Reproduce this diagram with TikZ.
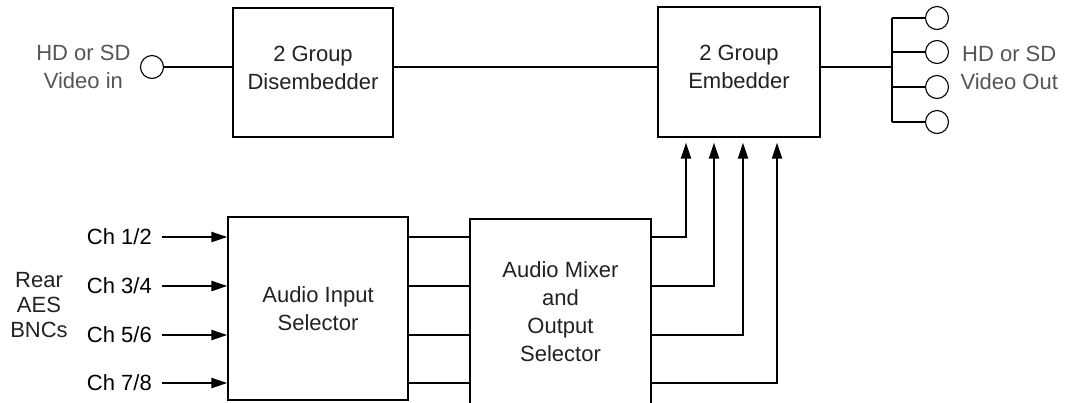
\documentclass[tikz,border=0pt]{standalone}
\usepackage{fontspec}
\setmainfont{Liberation Sans}
\usetikzlibrary{positioning, arrows.meta, calc}
\definecolor{labelgray}{HTML}{555555}
\definecolor{textdark}{HTML}{222222}
\tikzset{
  block/.style={rectangle, draw=black, line width=1.2pt, fill=white, align=center, text=textdark},
  bnc/.style={circle, draw=black, line width=1.1pt, fill=white, minimum size=23pt, inner sep=0pt},
  wire/.style={line width=1.2pt},
  arrow/.style={line width=2pt, -{Triangle[length=16pt, width=10pt]}}
}

\begin{document}
\begin{tikzpicture}[x=1pt, y=-1pt, node distance=8pt, every node/.style={font=\fontsize{22}{28}\selectfont}]
        \useasboundingbox (0,0) rectangle (1069,402);

        % top row
        \node (dis) [block, minimum width=160pt, minimum height=129pt, text depth=10pt] at (313,72.5) {2 Group\\Disembedder};
        \node (emb) [block, minimum width=162pt, minimum height=130pt, text depth=10pt] at (739,72) {2 Group\\Embedder};
        \node (vin) [bnc] at (152,67) {};
        \node (vinlabel) [left=6pt of vin, align=center, text=labelgray] {HD or SD\\Video in};

        \draw [wire] (vin.east) -- (vin -| dis.west);
        \draw [wire] (vin -| dis.east) -- (vin -| emb.west);

        % video outputs
        \coordinate (split) at (892,67);
        \draw [wire] (vin -| emb.east) -- (split);
        \foreach \i/\y in {1/18, 2/52, 3/87, 4/122} {
            \node (out\i) [bnc] at (937,\y) {};
            \draw [wire] (split |- out\i) -- (out\i.west);
        }
        \draw [wire] (split |- out1) -- (split |- out4);
        \node (voutlabel) [align=center, text=labelgray, anchor=west] at ($(out2)!.5!(out3)+(20,-2)$) {HD or SD\\Video Out};

        % audio path
        \node (sel) [block, minimum width=180pt, minimum height=183pt] at (318,308.5) {Audio Input\\Selector};
        \node (mix) [block, minimum width=181pt, minimum height=186pt] at (560.5,312) {Audio Mixer\\and\\Output\\Selector};
        \node (rear) [align=center, text=textdark, font=\fontsize{22}{25}\selectfont] at (39,305) {Rear\\AES\\BNCs};

        \foreach \i/\y/\x in {1/237/686, 2/286/714, 3/335/743, 4/383/777} {
            \node (ch\i) [anchor=east, text=black, inner xsep=10pt] at (162,\y) {Ch \the\numexpr2*\i-1\relax/\the\numexpr2*\i\relax};
            \draw [arrow] (ch\i.east) -- (ch\i -| sel.west);
            \draw [wire] (ch\i -| sel.east) -- (ch\i -| mix.west);
            \draw [arrow] (ch\i -| mix.east) -| ([yshift=-5pt]emb.south -| \x,0);
        }

    \end{tikzpicture}
\end{document}
